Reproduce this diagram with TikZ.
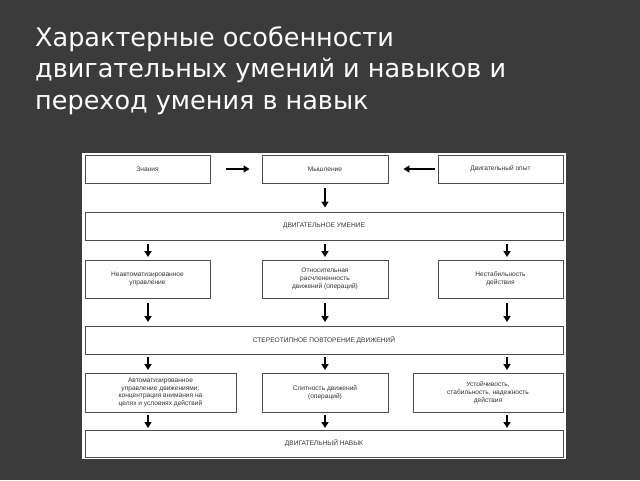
\documentclass[tikz,border=0pt]{standalone}
\usepackage{fontspec}
\setmainfont{Liberation Sans}
\newfontfamily\titlefont{DejaVu Sans}
\usetikzlibrary{arrows.meta}
\definecolor{bg}{HTML}{3B3B3B}
\begin{document}
\begin{tikzpicture}[x=1pt,y=-1pt,
  bx/.style={draw=black!70,line width=0.9pt,fill=white,inner sep=1pt,align=center,font=\fontsize{6.6}{7.8}\selectfont,text=black!80},
  ar/.style={-{Triangle[length=6pt,width=7pt]},line width=2.2pt,black}]
\fill[bg] (0,0) rectangle (640,480);
\useasboundingbox (0,0) rectangle (640,480);
\node[anchor=north west,text=white,align=left,font=\titlefont\fontsize{25.5}{31.5}\selectfont,inner sep=0] (title) at (35,26)
 {Характерные особенности\\двигательных умений и навыков и\\переход умения в навык};
\fill[white] (82,153) rectangle (566,459);
\newcommand\bbox[6]{\node[bx,minimum width=#3-#1,minimum height=#4-#2] (#5) at ({(#1+#3)/2},{(#2+#4)/2}) {#6};}
\bbox{85}{155}{210}{183}{zn}{Знания}
\bbox{262}{155}{388}{183}{my}{Мышление}
\bbox{438}{155}{563}{183}{op}{Двигательный опыт}
\bbox{85}{212}{563}{240}{um}{ДВИГАТЕЛЬНОЕ УМЕНИЕ}
\bbox{85}{260}{210}{298}{a1}{Неавтоматизированное\\управление}
\bbox{262}{260}{388}{298}{a2}{Относительная\\расчлененность\\движений (операций)}
\bbox{438}{260}{563}{298}{a3}{Нестабильность\\действия}
\bbox{85}{326}{563}{354}{st}{СТЕРЕОТИПНОЕ ПОВТОРЕНИЕ ДВИЖЕНИЙ}
\bbox{85}{373}{236}{412}{b1}{Автоматизированное\\управление движениями;\\концентрация внимания на\\целях и условиях действий}
\bbox{262}{373}{388}{412}{b2}{Слитность движений\\(операций)}
\bbox{413}{373}{563}{412}{b3}{Устойчивость,\\стабильность, надежность\\действия}
\bbox{85}{430}{563}{457}{nv}{ДВИГАТЕЛЬНЫЙ НАВЫК}
\draw[ar] ([xshift=16pt]zn.east) -- ([xshift=-12pt]my.west);
\draw[ar] ([xshift=-3pt]op.west) -- ([xshift=15pt]my.east);
\draw[ar] ([yshift=-5pt]my.south) -- ([yshift=4pt]my.south|-um.north);
\foreach \x in {148,325,507}{
 \draw[ar] (\x,244) -- (\x,257);
 \draw[ar] (\x,303) -- (\x,322);
 \draw[ar] (\x,357) -- (\x,370);
 \draw[ar] (\x,415) -- (\x,428);
}
\end{tikzpicture}
\end{document}
